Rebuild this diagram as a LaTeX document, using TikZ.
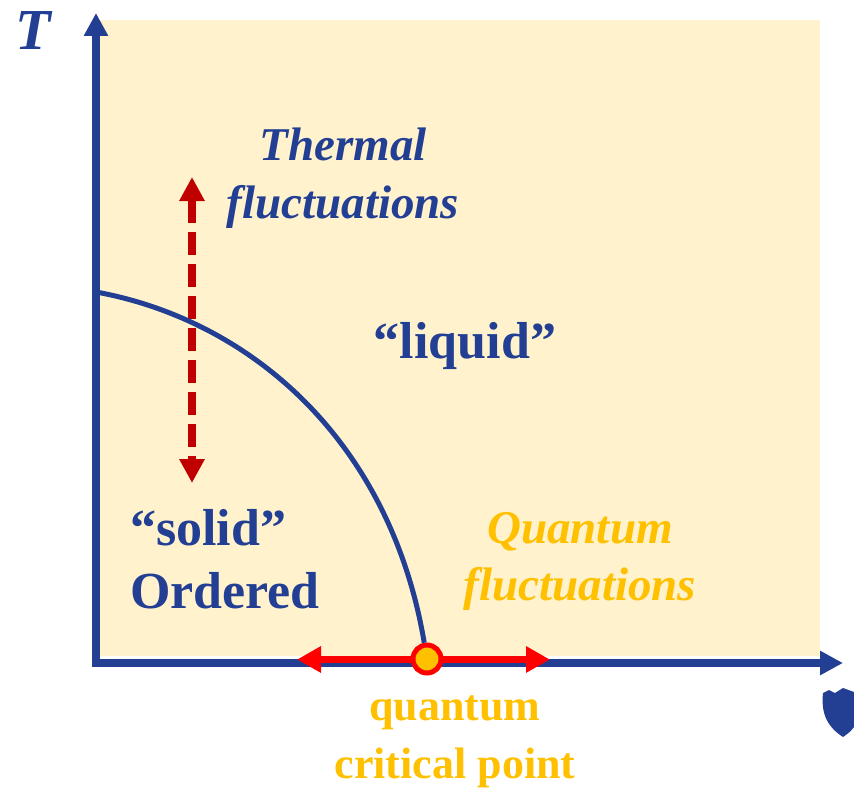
\documentclass[tikz,border=0pt]{standalone}
\usepackage{fontspec}
\setmainfont{Liberation Serif}
\usetikzlibrary{arrows.meta, positioning}
\definecolor{pnavy}{HTML}{223F94}
\definecolor{pcream}{HTML}{FFF2CC}
\definecolor{pgold}{HTML}{FFC000}
\definecolor{pdark}{HTML}{C00000}
\definecolor{pred}{HTML}{FF0000}
\tikzset{
  axis/.style={draw=pnavy, line width=8pt, line join=miter,
    {Triangle[length=23pt,width=23pt]}-{Triangle[length=23pt,width=23pt]}},
  curve/.style={draw=pnavy, line width=5pt},
  thermal/.style={draw=pdark, line width=8pt, dash pattern=on 23pt off 9pt,
    {Triangle[length=24pt,width=24pt]}-{Triangle[length=24pt,width=24pt]}},
  qarrow/.style={draw=pred, line width=7pt,
    {Triangle[length=24pt,width=25pt]}-{Triangle[length=24pt,width=25pt]}},
  qcp/.style={circle, draw=pred, fill=pgold, line width=5pt,
    minimum size=28pt, inner sep=0pt},
  lab/.style={inner sep=0pt, text=#1, font=\bfseries},
  lab/.default=pnavy
}

\begin{document}
\begin{tikzpicture}[x=1pt, y=-1pt]
  \useasboundingbox (0,0) rectangle (854,789);
  % phase plane
  \fill[pcream] (97,20) rectangle (820,656);
  \coordinate (ytip) at (96,13);
  \coordinate (o) at (96,663);
  \coordinate (xtip) at (843,663);
  \draw[axis] (ytip) -- (o) -- (xtip);
  \node[lab, font=\bfseries\itshape\fontsize{58}{58}\selectfont, anchor=base] (tl) at (33,50) {T};
  \fill[pnavy] (823,693) -- (829,690) -- (835,693) -- (843,688) -- (854,692)
    -- (854,727) .. controls (850,732) .. (843,737)
    .. controls (826,726) and (821,712) .. (823,693) -- cycle;
  % fluctuations
  \coordinate (tt) at (192,177);
  \coordinate (tb) at (192,483);
  \draw[thermal] (tt) -- (tb);
  \coordinate (ql) at (297,659.5);
  \coordinate (qr) at (550,659.5);
  \draw[qarrow] (ql) -- (qr);
  \node[qcp] (qcp) at (427,659) {};
  \coordinate (tc) at (96,292);
  \draw[curve] (tc) .. controls (250,320) and (390,440) .. (qcp);
  % labels
  \node[lab, font=\bfseries\itshape\fontsize{47}{58}\selectfont, align=center] (thl) at (343,178)
    {Thermal\\fluctuations};
  \node[lab, font=\bfseries\fontsize{52}{63}\selectfont, anchor=base] (liq) at (465,358)
    {``liquid''};
  \node[lab, font=\bfseries\fontsize{52}{63}\selectfont, align=left, anchor=west] (sol) at (130,559)
    {``solid''\\Ordered};
  \node[lab=pgold, font=\bfseries\itshape\fontsize{47}{57}\selectfont, align=center] (qfl) at (580,561)
    {Quantum\\fluctuations};
  \node[lab=pgold, font=\bfseries\fontsize{44}{58}\selectfont, align=center] (qcl) at (455,742)
    {quantum\\critical point};
\end{tikzpicture}
\end{document}
